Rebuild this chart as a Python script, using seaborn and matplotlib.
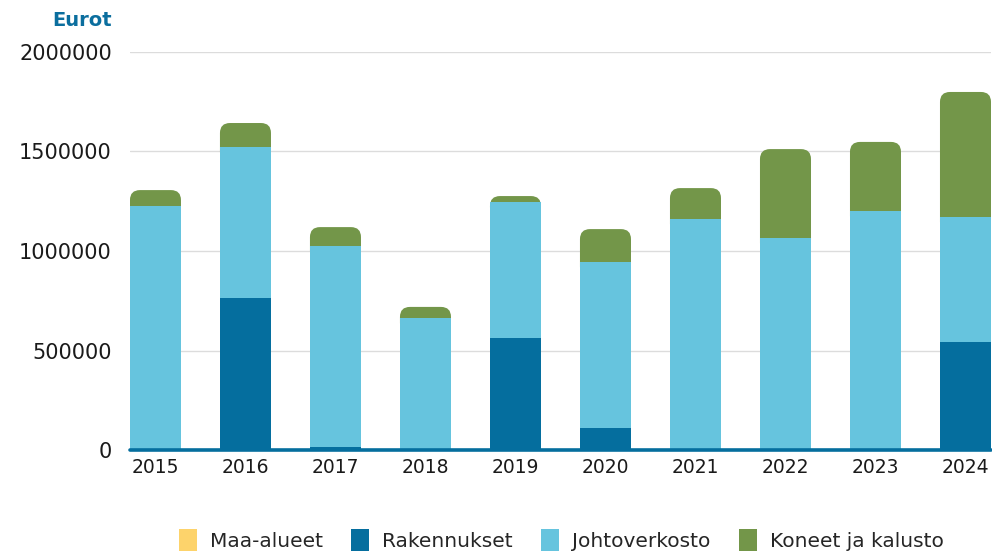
import matplotlib
matplotlib.use("Agg")
import matplotlib.pyplot as plt
import numpy as np
import pandas as pd
import seaborn as sns
from matplotlib.patches import FancyBboxPatch, Patch

years = ["2015", "2016", "2017", "2018", "2019", "2020", "2021", "2022", "2023", "2024"]
maa_alueet = [0, 0, 0, 0, 0, 0, 0, 0, 0, 0]
rakennukset = [0, 764000, 15000, 0, 563000, 110000, 0, 0, 0, 543000]
johtoverkosto = [1226000, 759000, 1010000, 663000, 683000, 835000, 1161000, 1065000, 1201000, 628000]
koneet = [80000, 120000, 95000, 56000, 30000, 165000, 155000, 447000, 347000, 628000]

series = ["Maa-alueet", "Rakennukset", "Johtoverkosto", "Koneet ja kalusto"]
colors = ["#FDD36B", "#056E9E", "#66C4DE", "#739649"]

df = pd.DataFrame({"year": years, "maa": maa_alueet, "rak": rakennukset,
                   "johto": johtoverkosto, "koneet": koneet})
df["c_maa"] = df["maa"]
df["c_rak"] = df["c_maa"] + df["rak"]
df["c_johto"] = df["c_rak"] + df["johto"]
df["c_koneet"] = df["c_johto"] + df["koneet"]

sns.set_theme(style="white")
plt.rcParams["font.family"] = ["DejaVu Sans"]

fig = plt.figure(figsize=(9.92, 5.54), dpi=100)
ax = fig.add_axes([0.131, 0.1877, 0.868, 0.7185])

width = 0.567
# top layer, later swapped for rounded boxes
sns.barplot(data=df, x="year", y="c_koneet", color=colors[3], width=width,
            saturation=1, linewidth=0, ax=ax, zorder=2)
top_bars = list(ax.patches)
ax.set_ylim(0, 2000000)
ax.set_xlim(-width / 2, len(years) - 1 + width / 2)

fig.canvas.draw()
x_per_px = (ax.get_xlim()[1] - ax.get_xlim()[0]) / ax.bbox.width
y_per_px = (ax.get_ylim()[1] - ax.get_ylim()[0]) / ax.bbox.height
radius_px = 10
for p, low in zip(top_bars, df["c_johto"]):
    x0, w, h = p.get_x(), p.get_width(), p.get_height()
    p.remove()
    if h - low <= 0:
        continue
    bottom = low - radius_px * y_per_px * 1.5
    box = FancyBboxPatch((x0, bottom), w, h - bottom,
                         boxstyle=f"round,pad=0,rounding_size={radius_px * x_per_px}",
                         mutation_aspect=y_per_px / x_per_px,
                         facecolor=colors[3], edgecolor="none", zorder=2)
    ax.add_patch(box)

sns.barplot(data=df, x="year", y="c_johto", color=colors[2], width=width,
            saturation=1, linewidth=0, ax=ax, zorder=3)
sns.barplot(data=df, x="year", y="c_rak", color=colors[1], width=width,
            saturation=1, linewidth=0, ax=ax, zorder=4)
ax.set_ylim(0, 2000000)
ax.set_xlim(-width / 2, len(years) - 1 + width / 2)

ax.set_yticks([0, 500000, 1000000, 1500000, 2000000])
ax.set_yticklabels(["0", "500000", "1000000", "1500000", "2000000"])
ax.yaxis.grid(True, color="#DCDCDC", linewidth=1)
ax.set_axisbelow(True)
ax.axhline(0, color="#056E9E", linewidth=2.6, zorder=6, clip_on=False)
for s in ax.spines.values():
    s.set_visible(False)
ax.tick_params(axis="y", length=0, pad=13, labelsize=15, labelcolor="#1a1a1a")
ax.tick_params(axis="x", length=0, pad=6, labelsize=13.5, labelcolor="#1a1a1a")
ax.set_xlabel("")
ax.set_ylabel("")

fig.text(0.113, 0.963, "Eurot", ha="right", va="center", fontsize=14,
         fontweight="bold", color="#0B6E9E")

handles = [Patch(facecolor=c, edgecolor="none") for c in colors]
fig.legend(handles, series, loc="center", bbox_to_anchor=(0.566, 0.025), ncol=4,
           frameon=False, fontsize=14.5, handlelength=0.9, handleheight=1.25,
           handletextpad=0.65, columnspacing=1.4)

fig.savefig("out.png", dpi=100)
